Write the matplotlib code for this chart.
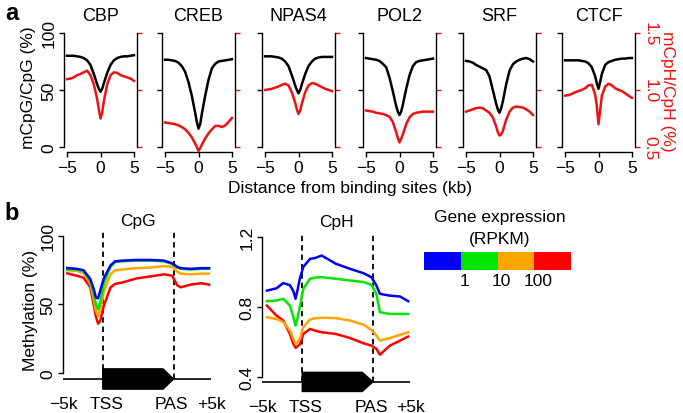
import numpy as np
import matplotlib.pyplot as plt

W, H = 683, 414
plt.rcParams['font.family'] = ['Liberation Sans', 'DejaVu Sans']
plt.rcParams['font.size'] = 12.5
plt.rcParams['axes.linewidth'] = 1.0

# ---------------- panel a : profiles around binding sites ----------------
factors = ['CBP', 'CREB', 'NPAS4', 'POL2', 'SRF', 'CTCF']
dist_kb = [-5, -4.5, -4, -3.5, -3, -2.5, -2, -1.5, -1, -0.5, -0.25, 0,
           0.25, 0.5, 1, 1.5, 2, 2.5, 3, 3.5, 4, 4.5, 5]

# mCpG/CpG (%)
cbp_cpg = [80, 80, 80, 79.5, 79, 78, 76, 72, 64, 55, 51, 48.5, 51, 56, 65, 72, 76, 78, 79, 79.5, 79.5, 80, 80.5]
creb_cpg = [76.5, 76.5, 76, 75.5, 74, 71, 66, 57, 45, 30, 22, 16, 20, 29, 45, 59, 69, 73, 75, 75.5, 76, 76.5, 77]
npas4_cpg = [79.5, 79.5, 79.5, 79, 78.5, 77.5, 75, 71, 63, 54, 50, 47, 50, 55, 64, 71, 75, 77.5, 78.5, 79, 79, 79, 79]
pol2_cpg = [78, 77.5, 77, 76.5, 75.5, 73, 70, 61, 49, 36, 31, 28, 31, 37, 51, 63, 71, 74.5, 75.5, 76, 76.5, 77, 77.5]
srf_cpg = [75.5, 75, 74, 72, 70.5, 69, 67.5, 62, 50, 38, 33, 30, 34, 40, 55, 67, 72.5, 75, 76.5, 77.5, 78, 77, 75]
ctcf_cpg = [76, 76, 76, 76, 76, 75.5, 75, 73.5, 70, 62, 56, 51, 57, 64, 72, 74.5, 75.5, 76.5, 77, 77.5, 77.5, 78, 78]

# mCpH/CpH (%)
cbp_cph = [1.095, 1.10, 1.11, 1.13, 1.14, 1.155, 1.17, 1.13, 1.05, 0.92, 0.83, 0.75, 0.80, 0.90, 1.05, 1.13, 1.155, 1.15, 1.13, 1.12, 1.11, 1.10, 1.08]
creb_cph = [0.715, 0.71, 0.705, 0.70, 0.69, 0.675, 0.655, 0.625, 0.585, 0.53, 0.50, 0.465, 0.49, 0.52, 0.575, 0.62, 0.655, 0.685, 0.685, 0.675, 0.69, 0.72, 0.755]
npas4_cph = [1.0, 1.005, 1.01, 1.02, 1.03, 1.045, 1.055, 1.04, 0.98, 0.89, 0.83, 0.79, 0.82, 0.88, 0.98, 1.04, 1.06, 1.055, 1.04, 1.025, 1.01, 1.0, 0.99]
pol2_cph = [0.82, 0.815, 0.81, 0.80, 0.795, 0.79, 0.78, 0.765, 0.72, 0.63, 0.58, 0.54, 0.57, 0.61, 0.70, 0.76, 0.79, 0.80, 0.805, 0.81, 0.81, 0.81, 0.81]
srf_cph = [0.81, 0.82, 0.83, 0.84, 0.845, 0.84, 0.82, 0.80, 0.76, 0.68, 0.63, 0.60, 0.61, 0.64, 0.74, 0.81, 0.845, 0.855, 0.85, 0.845, 0.83, 0.81, 0.78]
ctcf_cph = [0.95, 0.955, 0.965, 0.98, 0.99, 1.00, 1.015, 1.04, 1.045, 0.96, 0.86, 0.70, 0.82, 0.95, 1.03, 1.055, 1.04, 1.015, 1.00, 0.99, 0.97, 0.95, 0.93]

cpg_all = [cbp_cpg, creb_cpg, npas4_cpg, pol2_cpg, srf_cpg, ctcf_cpg]
cph_all = [cbp_cph, creb_cph, npas4_cph, pol2_cph, srf_cph, ctcf_cph]

# ---------------- panel b : metagene profiles ----------------
gene_pos = [0, 0.27, 0.46, 0.65, 0.75, 0.81, 0.87, 0.93, 1.03, 1.22, 1.35, 1.55,
            1.95, 2.35, 2.73, 2.96, 3.1, 3.2, 3.48, 3.77, 4.0]
tss, pas = 1, 3
pos_labels = ['\u22125k', 'TSS', 'PAS', '+5k']

cpg_low = [76.6, 76, 75, 68.6, 61, 55, 54.5, 60, 69, 78.5, 81.5, 82, 82.5, 82.5, 82, 80, 77.5, 76.5, 76, 76.5, 76.5]
cpg_mid1 = [75.5, 75.5, 74, 67, 57, 50, 46.5, 51.5, 65, 77.5, 81, 81.5, 82, 82, 81.5, 79.5, 77, 76, 75.5, 76, 76]
cpg_mid2 = [75, 74.5, 73, 65.5, 53, 45, 41.5, 46.5, 59, 72, 75, 75.5, 76.5, 77, 78, 77.5, 74, 72.5, 72, 72.5, 72.5]
cpg_high = [72.7, 71, 69.5, 62.5, 49, 41, 36, 38, 49, 62.5, 65, 66, 69, 70.5, 72, 71, 64, 62.5, 64.5, 65.5, 64.5]

cph_low = [0.894, 0.907, 0.937, 0.925, 0.89, 0.847, 0.9, 0.962, 1.03, 1.076, 1.08, 1.095, 1.048, 1.019, 0.994, 0.971, 0.923, 0.875, 0.865, 0.86, 0.833]
cph_mid1 = [0.833, 0.837, 0.847, 0.808, 0.74, 0.693, 0.74, 0.8, 0.904, 0.962, 0.968, 0.971, 0.962, 0.952, 0.943, 0.927, 0.875, 0.77, 0.76, 0.76, 0.76]
cph_mid2 = [0.741, 0.731, 0.713, 0.665, 0.617, 0.588, 0.6, 0.617, 0.684, 0.728, 0.735, 0.738, 0.736, 0.722, 0.699, 0.668, 0.636, 0.607, 0.622, 0.64, 0.655]
cph_high = [0.808, 0.75, 0.723, 0.645, 0.588, 0.565, 0.575, 0.584, 0.645, 0.674, 0.665, 0.655, 0.645, 0.622, 0.592, 0.578, 0.56, 0.526, 0.578, 0.607, 0.63]

expr_colors = ['#0000ff', '#00e600', '#ffa500', '#ff0000']
expr_ticks = ['1', '10', '100']


def box(l, t, r, b):
    return [l / W, 1 - b / H, (r - l) / W, (b - t) / H]


fig = plt.figure(figsize=(W / 100, H / 100), dpi=100)

lefts = [64, 162, 262, 363, 463, 562]
for i, name in enumerate(factors):
    ax = fig.add_axes(box(lefts[i], 29.4, lefts[i] + 73, 153))
    ax.set_xlim(-5.45, 5.45)
    ax.set_ylim(-4.4, 104)
    ax.plot(dist_kb, cpg_all[i], color='black', lw=1.8, zorder=3)
    for s in ['top', 'right']:
        ax.spines[s].set_visible(False)
    ax.spines['left'].set_bounds(0, 100)
    ax.spines['bottom'].set_bounds(-5, 5)
    ax.set_xticks([-5, 0, 5])
    ax.set_xticklabels(['\u22125', '0', '5'])
    ax.set_yticks([0, 50, 100])
    ax.tick_params(length=3.5, width=1, pad=2)
    if i == 0:
        ax.set_yticklabels(['0', '50', '100'], rotation=90, va='center', ha='right')
    else:
        ax.set_yticklabels([])
    ax.set_title(name, fontsize=13, pad=6)

    ax2 = ax.twinx()
    ax2.set_ylim(0.456, 1.54)
    ax2.plot(dist_kb, cph_all[i], color='#ee1111', lw=1.8)
    for s in ['top', 'left', 'bottom']:
        ax2.spines[s].set_visible(False)
    ax2.spines['right'].set_bounds(0.5, 1.5)
    ax2.set_yticks([0.5, 1.0, 1.5])
    ax2.tick_params(axis='y', colors='#ee1111', length=3.5, width=1, pad=2)
    ax2.spines['right'].set_color('black')
    if i == len(factors) - 1:
        ax2.set_yticklabels(['0.5', '1.0', '1.5'], rotation=270, va='center', ha='left')
    else:
        ax2.set_yticklabels([])

fig.text(12 / W, 1 - 14 / H, 'a', fontsize=17, fontweight='bold', ha='center', va='center')
fig.text(29 / W, 1 - 88 / H, 'mCpG/CpG (%)', rotation=90, ha='center', va='center')
fig.text(667 / W, 1 - 91 / H, 'mCpH/CpH (%)', rotation=270, ha='center', va='center', color='#ee1111')
fig.text(350 / W, 1 - 189 / H, 'Distance from binding sites (kb)', ha='center', va='center')

# ---------------- panel b ----------------
fig.text(12 / W, 1 - 214 / H, 'b', fontsize=17, fontweight='bold', ha='center', va='center')


def metagene(ax, series, ylim, ticks, ticklabels, base, half_h, title):
    ax.set_ylim(*ylim)
    for s in ['top', 'right', 'bottom']:
        ax.spines[s].set_visible(False)
    ax.spines['left'].set_bounds(ticks[0], ticks[-1])
    ax.set_yticks(ticks)
    ax.set_yticklabels(ticklabels, rotation=90, va='center', ha='right')
    ax.tick_params(axis='y', length=3.5, width=1, pad=2)
    ax.set_xticks([-0.12, 1.1, 2.95, 4.08])
    ax.set_xticklabels(pos_labels)
    ax.tick_params(axis='x', length=0, pad=5)
    x0 = ax.get_xlim()[0]
    ax.hlines(base, x0, 4.05, color='black', lw=1.2, clip_on=False)
    tip = 0.3
    ax.fill([tss, pas - tip, pas, pas - tip, tss],
            [base + half_h, base + half_h, base, base - half_h, base - half_h],
            color='black', clip_on=False, zorder=4)
    ax.vlines([tss, pas], base, ylim[1], colors='black', linestyles=(0, (3, 2.2)), lw=1.3)
    for vals, c in zip(series[::-1], expr_colors[::-1]):
        ax.plot(gene_pos, vals, color=c, lw=1.8)
    ax.set_title(title, fontsize=12.5, pad=4)


axG = fig.add_axes(box(63, 231.5, 212.6, 390.4))
axG.set_xlim(-0.11, 4.1)
metagene(axG, [cpg_low, cpg_mid1, cpg_mid2, cpg_high], (-12, 104),
         [0, 50, 100], ['0', '50', '100'], -4.4, 7.4, 'CpG')
axG.set_ylabel('Methylation (%)', labelpad=2)

axH = fig.add_axes(box(262, 232.5, 411.7, 393))
axH.set_xlim(-0.14, 4.1)
metagene(axH, [cph_low, cph_mid1, cph_mid2, cph_high], (0.312, 1.233),
         [0.4, 0.8, 1.2], ['0.4', '0.8', '1.2'], 0.37, 0.055, 'CpH')

# colour key
fig.text(500 / W, 1 - 218 / H, 'Gene expression', ha='center', va='center')
fig.text(500 / W, 1 - 240 / H, '(RPKM)', ha='center', va='center')
axK = fig.add_axes(box(424, 253, 571, 271))
axK.bar(np.arange(len(expr_colors)), 1, width=1, align='edge', color=expr_colors)
axK.set_xlim(0, len(expr_colors))
axK.set_ylim(0, 1)
for s in axK.spines.values():
    s.set_visible(False)
axK.set_yticks([])
axK.set_xticks(np.arange(1, len(expr_colors)) + 0.1)
axK.set_xticklabels(expr_ticks)
axK.tick_params(axis='x', length=0, pad=2)

fig.savefig('out.png', dpi=100)
